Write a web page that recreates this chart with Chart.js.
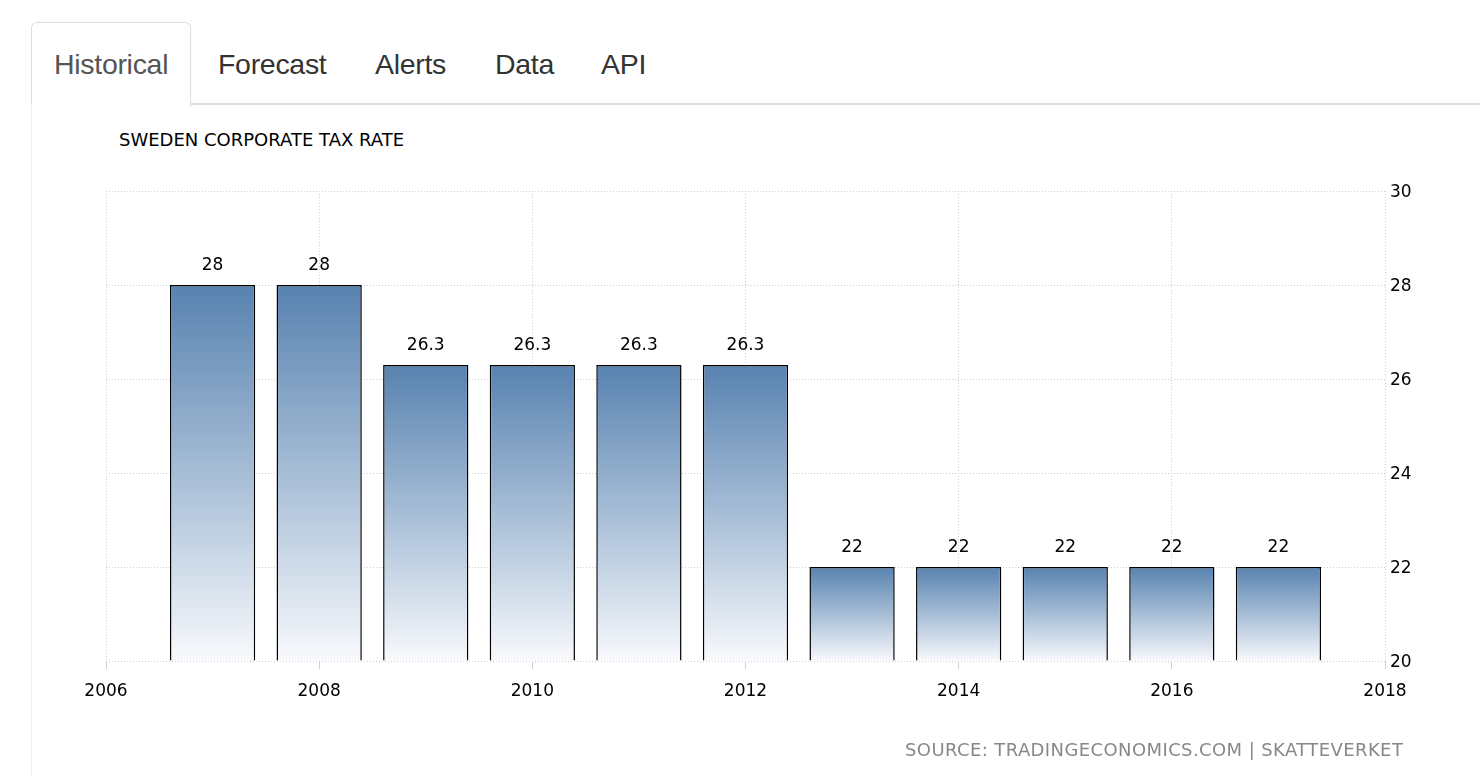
<!DOCTYPE html>
<html>
<head>
<meta charset="utf-8">
<script src="https://cdn.jsdelivr.net/npm/chart.js@4/dist/chart.umd.min.js"></script>
<style>
  html, body { margin: 0; padding: 0; background: #fff; }
  body { width: 1480px; height: 776px; position: relative; overflow: hidden; font-family: "Liberation Sans", Arial, sans-serif; }
  .tabline { position: absolute; left: 191px; right: 0; top: 103px; height: 0; border-top: 2px solid #ddd; }
  .tab-active { position: absolute; left: 31px; top: 22px; width: 158px; height: 84px; border: 1px solid #ddd; border-bottom: none; border-radius: 6px 6px 0 0; background: #fff; }
  .panel-left { position: absolute; left: 31px; top: 104px; width: 0; height: 672px; border-left: 1px solid #eee; }
  .tab { position: absolute; top: 48px; font-size: 28.5px; color: #333; letter-spacing: -0.3px; }
  .tab.active { color: #555; }
  #title { position: absolute; left: 119px; top: 129px; font-family: "DejaVu Sans", sans-serif; font-size: 18px; color: #000; }
  #source { position: absolute; left: 905px; top: 739px; font-family: "DejaVu Sans", sans-serif; font-size: 18px; color: #888; letter-spacing: 0.4px; white-space: nowrap; }
  #wrap { position: absolute; left: 0; top: 0; width: 1480px; height: 776px; }
</style>
</head>
<body>
<div class="tabline"></div>
<div class="tab-active"></div>
<div class="panel-left"></div>
<div class="tab active" style="left:54px">Historical</div>
<div class="tab" style="left:218px">Forecast</div>
<div class="tab" style="left:375px">Alerts</div>
<div class="tab" style="left:495px">Data</div>
<div class="tab" style="left:601px">API</div>
<div id="title">SWEDEN CORPORATE TAX RATE</div>
<div id="wrap"><canvas id="c" width="1480" height="776"></canvas></div>
<div id="source">SOURCE: TRADINGECONOMICS.COM | SKATTEVERKET</div>
<script>
const years = [2007, 2008, 2009, 2010, 2011, 2012, 2013, 2014, 2015, 2016, 2017];
const rates = [28, 28, 26.3, 26.3, 26.3, 26.3, 22, 22, 22, 22, 22];
const xTicks = [2006, 2008, 2010, 2012, 2014, 2016, 2018];
const yTicks = [20, 22, 24, 26, 28, 30];

const tickFont = { family: '"DejaVu Sans", sans-serif', size: 17 };

const valueLabels = {
  id: 'valueLabels',
  afterDatasetsDraw(chart) {
    const ctx = chart.ctx;
    const meta = chart.getDatasetMeta(0);
    ctx.save();
    ctx.font = '17px "DejaVu Sans", sans-serif';
    ctx.fillStyle = '#000';
    ctx.textAlign = 'center';
    ctx.textBaseline = 'middle';
    meta.data.forEach((el, i) => {
      ctx.fillText(String(rates[i]), el.x, el.y - 19);
    });
    ctx.restore();
  }
};

function barGradient(context) {
  const chart = context.chart;
  const y = chart.scales && chart.scales.y;
  if (!y || context.raw === undefined) return '#7a9cc2';
  const v = context.raw.y;
  const top = y.getPixelForValue(v);
  const bot = y.getPixelForValue(20);
  if (!isFinite(top) || !isFinite(bot)) return '#7a9cc2';
  const g = chart.ctx.createLinearGradient(0, top, 0, bot);
  g.addColorStop(0, '#5882b0');
  g.addColorStop(0.5, '#a6bdd6');
  g.addColorStop(1, '#f8f9fc');
  return g;
}

new Chart(document.getElementById('c'), {
  type: 'bar',
  data: {
    datasets: [{
      data: years.map((yr, i) => ({ x: yr, y: rates[i] })),
      base: 20,
      backgroundColor: barGradient,
      borderColor: '#000',
      borderWidth: 1.5,
      barPercentage: 0.8,
      categoryPercentage: 1.0
    }]
  },
  options: {
    responsive: false,
    animation: false,
    events: [],
    layout: { padding: { left: 106, right: 45, top: 191, bottom: 0 } },
    plugins: { legend: { display: false }, tooltip: { enabled: false }, title: { display: false } },
    scales: {
      x: {
        type: 'linear',
        offset: false,
        min: 2006, max: 2018,
        afterBuildTicks(scale) { scale.ticks = xTicks.map(v => ({ value: v })); },
        afterFit(scale) { scale.height = 115; },
        ticks: { font: tickFont, color: '#000', padding: 12, callback: v => String(v), maxRotation: 0 },
        grid: { offset: false, color: '#cfcfcf', lineWidth: 1, tickLength: 8, tickColor: '#cfcfcf' },
        border: { display: false, dash: [1, 2] }
      },
      y: {
        position: 'right',
        min: 20, max: 30,
        afterBuildTicks(scale) { scale.ticks = yTicks.map(v => ({ value: v })); },
        afterFit(scale) { scale.width = 50; },
        ticks: { font: tickFont, color: '#000', padding: 5, labelOffset: 2, callback: v => String(v) },
        grid: { color: '#cfcfcf', lineWidth: 1, drawTicks: false },
        border: { display: false, dash: [1, 2] }
      }
    }
  },
  plugins: [valueLabels]
});
</script>
</body>
</html>
